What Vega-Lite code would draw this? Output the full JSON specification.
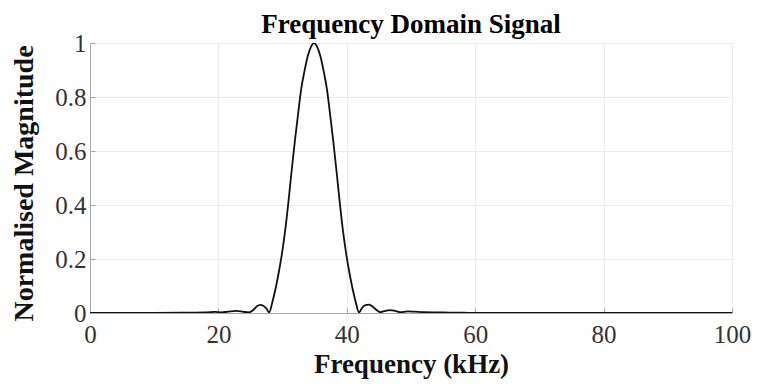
{
  "$schema": "https://vega.github.io/schema/vega-lite/v6.json",
  "width": 642,
  "height": 270,
  "autosize": {"type": "none"},
  "padding": {"left": 90, "top": 43, "right": 25, "bottom": 77},
  "background": "white",
  "title": {
    "text": "Frequency Domain Signal",
    "font": "Liberation Serif",
    "fontSize": 27,
    "fontWeight": "bold",
    "color": "#000000",
    "offset": 6,
    "dy": 14
  },
  "data": {
    "values": [
      {"f": 0, "mag": 0.0},
      {"f": 5, "mag": 0.0},
      {"f": 10, "mag": 0.0},
      {"f": 15, "mag": 0.001},
      {"f": 18, "mag": 0.002},
      {"f": 19.5, "mag": 0.004},
      {"f": 20.5, "mag": 0.002},
      {"f": 21.5, "mag": 0.005},
      {"f": 22.8, "mag": 0.008},
      {"f": 23.8, "mag": 0.005},
      {"f": 24.7, "mag": 0.002},
      {"f": 25.0, "mag": 0.004},
      {"f": 25.5, "mag": 0.013},
      {"f": 26.0, "mag": 0.025},
      {"f": 26.5, "mag": 0.03},
      {"f": 27.0, "mag": 0.027},
      {"f": 27.5, "mag": 0.016},
      {"f": 27.9, "mag": 0.002},
      {"f": 28.4, "mag": 0.04},
      {"f": 28.9, "mag": 0.09},
      {"f": 29.4, "mag": 0.15},
      {"f": 29.9, "mag": 0.22},
      {"f": 30.4, "mag": 0.305},
      {"f": 30.9, "mag": 0.41},
      {"f": 31.4, "mag": 0.525},
      {"f": 31.9, "mag": 0.635},
      {"f": 32.4, "mag": 0.735},
      {"f": 32.9, "mag": 0.83},
      {"f": 33.4, "mag": 0.895},
      {"f": 33.9, "mag": 0.95},
      {"f": 34.4, "mag": 0.985},
      {"f": 34.9, "mag": 1.0},
      {"f": 35.4, "mag": 0.985},
      {"f": 35.9, "mag": 0.95},
      {"f": 36.4, "mag": 0.895},
      {"f": 36.9, "mag": 0.83},
      {"f": 37.4, "mag": 0.735},
      {"f": 37.9, "mag": 0.635},
      {"f": 38.4, "mag": 0.525},
      {"f": 38.9, "mag": 0.41},
      {"f": 39.4, "mag": 0.305},
      {"f": 39.9, "mag": 0.22},
      {"f": 40.4, "mag": 0.15},
      {"f": 40.9, "mag": 0.09},
      {"f": 41.4, "mag": 0.04},
      {"f": 41.9, "mag": 0.002},
      {"f": 42.4, "mag": 0.02},
      {"f": 42.9, "mag": 0.029},
      {"f": 43.4, "mag": 0.031},
      {"f": 43.9, "mag": 0.026},
      {"f": 44.5, "mag": 0.014},
      {"f": 45.2, "mag": 0.003},
      {"f": 46.0, "mag": 0.008},
      {"f": 46.7, "mag": 0.011},
      {"f": 47.5, "mag": 0.008},
      {"f": 48.3, "mag": 0.003},
      {"f": 49.5, "mag": 0.006},
      {"f": 50.5, "mag": 0.005},
      {"f": 52, "mag": 0.003},
      {"f": 55, "mag": 0.002},
      {"f": 58, "mag": 0.001},
      {"f": 62, "mag": 0.0},
      {"f": 70, "mag": 0.0},
      {"f": 80, "mag": 0.0},
      {"f": 90, "mag": 0.0},
      {"f": 100, "mag": 0.0}
    ]
  },
  "mark": {
    "type": "line",
    "color": "#111111",
    "strokeWidth": 1.8,
    "interpolate": "monotone",
    "clip": true
  },
  "encoding": {
    "x": {
      "field": "f",
      "type": "quantitative",
      "scale": {"domain": [0, 100], "nice": false, "zero": false},
      "axis": {
        "title": "Frequency (kHz)",
        "values": [0, 20, 40, 60, 80, 100],
        "format": "d",
        "labelFlush": false,
        "labelBound": false,
        "labelPadding": 14,
        "titleFontSize": 27,
        "titleY": 59,
        "titleBaseline": "alphabetic"
      }
    },
    "y": {
      "field": "mag",
      "type": "quantitative",
      "scale": {"domain": [0, 1], "nice": false},
      "axis": {
        "title": "Normalised Magnitude",
        "values": [0, 0.2, 0.4, 0.6, 0.8, 1],
        "format": "~g",
        "labelFlush": false,
        "labelBound": false,
        "labelPadding": 9,
        "titleFontSize": 28,
        "titleX": -58,
        "titleY": 140,
        "titleBaseline": "alphabetic",
        "titleAlign": "center"
      }
    }
  },
  "config": {
    "view": {"stroke": "#a8a8a8", "strokeWidth": 1},
    "axis": {
      "labelFont": "Liberation Serif",
      "labelFontSize": 25,
      "labelColor": "#333333",
      "titleFont": "Liberation Serif",
      "titleFontWeight": "bold",
      "titleColor": "#111111",
      "domainColor": "#a8a8a8",
      "tickColor": "#a8a8a8",
      "tickSize": -5,
      "gridColor": "#ececec",
      "gridWidth": 1
    }
  }
}
